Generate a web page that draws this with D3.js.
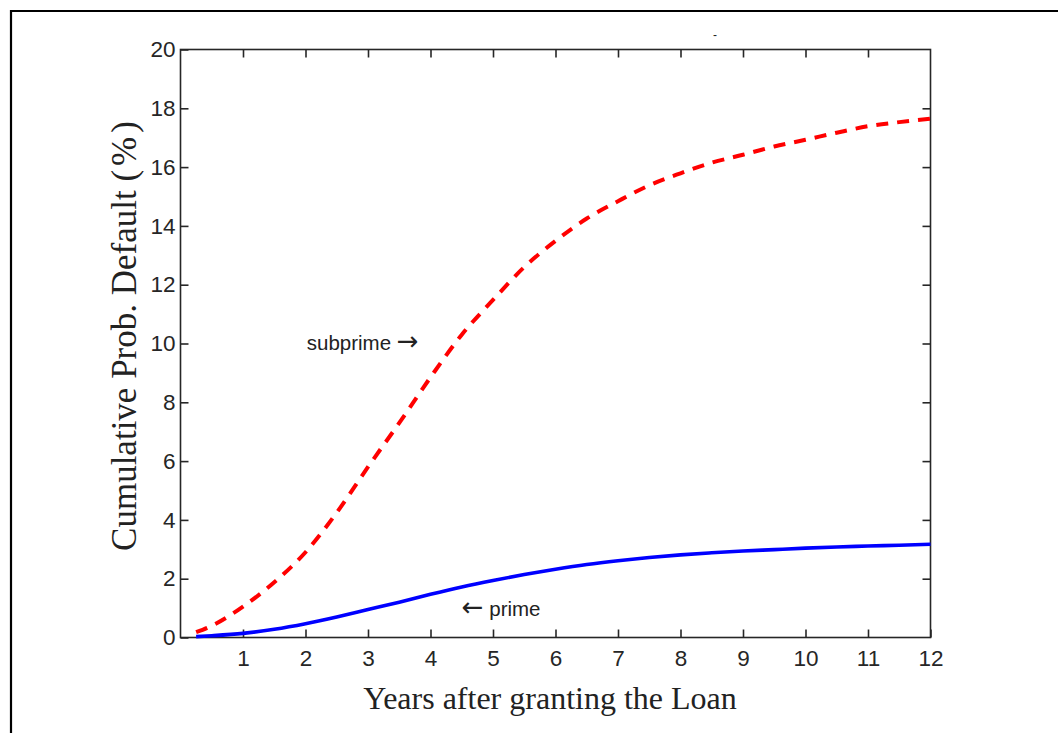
<!DOCTYPE html>
<html>
<head>
<meta charset="utf-8">
<script src="https://cdn.jsdelivr.net/npm/d3@7"></script>
<style>
  body { margin: 0; background: #fff; }
  svg { display: block; }
</style>
</head>
<body>
<svg id="chart" width="1058" height="733"></svg>
<script>
// years after granting the loan
var years = [0.25, 0.5, 1, 1.5, 2, 2.5, 3, 3.5, 4, 4.5, 5, 5.5, 6, 6.5, 7, 7.5, 8, 8.5, 9, 9.5, 10, 10.5, 11, 11.5, 12];
// cumulative probability of default (%)
var subprime = [0.18, 0.4, 1.05, 1.88, 2.9, 4.25, 5.8, 7.3, 8.85, 10.3, 11.48, 12.6, 13.49, 14.25, 14.84, 15.38, 15.79, 16.15, 16.42, 16.7, 16.93, 17.17, 17.39, 17.53, 17.65];
var prime = [0.03, 0.06, 0.14, 0.28, 0.47, 0.7, 0.95, 1.2, 1.47, 1.72, 1.94, 2.14, 2.32, 2.48, 2.61, 2.72, 2.81, 2.88, 2.94, 2.99, 3.04, 3.08, 3.11, 3.14, 3.17];
var xTicks = [1, 2, 3, 4, 5, 6, 7, 8, 9, 10, 11, 12];
var yTicks = [0, 2, 4, 6, 8, 10, 12, 14, 16, 18, 20];

function drawChart() {
    var svg = d3.select("#chart");
    var plotLeft = 180.5, plotRight = 930.5, plotTop = 49.5, plotBottom = 637.5;
    var axisColor = "#262626";
    var sans = "'Liberation Sans', Arial, sans-serif";
    var serif = "'Liberation Serif', 'Times New Roman', serif";

    // outer frame (only top and left edges are inside the picture)
    svg.append("path")
        .attr("d", "M11,733 L11,11 L1058,11")
        .attr("fill", "none")
        .attr("stroke", "#000")
        .attr("stroke-width", 2.2);

    var x = d3.scaleLinear().domain([0, 12]).range([plotLeft, plotRight]);
    var y = d3.scaleLinear().domain([0, 20]).range([plotBottom, plotTop]);

    // box
    svg.append("rect")
        .attr("x", plotLeft).attr("y", plotTop)
        .attr("width", plotRight - plotLeft).attr("height", plotBottom - plotTop)
        .attr("fill", "none")
        .attr("stroke", axisColor)
        .attr("stroke-width", 1.6);

    function styleAxis(g, showText) {
        g.select(".domain").remove();
        g.selectAll(".tick line").attr("stroke", axisColor).attr("stroke-width", 1.6);
        g.selectAll(".tick text")
            .attr("fill", axisColor)
            .style("font-family", sans)
            .style("font-size", "22.5px");
        if (!showText) g.selectAll(".tick text").remove();
    }

    // bottom axis, inward ticks
    svg.append("g")
        .attr("transform", "translate(0," + plotBottom + ")")
        .call(d3.axisBottom(x).tickValues(xTicks).tickSize(-8).tickPadding(13).tickFormat(d3.format("d")))
        .call(function (g) { styleAxis(g, true); });

    // top axis, mirrored ticks
    svg.append("g")
        .attr("transform", "translate(0," + plotTop + ")")
        .call(d3.axisTop(x).tickValues(xTicks.slice(0, -1)).tickSize(-8))
        .call(function (g) { styleAxis(g, false); });

    // left axis
    svg.append("g")
        .attr("transform", "translate(" + plotLeft + ",0)")
        .call(d3.axisLeft(y).tickValues(yTicks).tickSize(-8).tickPadding(5).tickFormat(d3.format("d")))
        .call(function (g) { styleAxis(g, true); });

    // right axis, mirrored ticks
    svg.append("g")
        .attr("transform", "translate(" + plotRight + ",0)")
        .call(d3.axisRight(y).tickValues(yTicks.slice(1, -1)).tickSize(-8))
        .call(function (g) { styleAxis(g, false); });

    var line = d3.line().curve(d3.curveMonotoneX)
        .x(function (d, i) { return x(years[i]); })
        .y(function (d) { return y(d); });

    svg.append("path")
        .datum(subprime)
        .attr("d", line)
        .attr("fill", "none")
        .attr("stroke", "#ff0000")
        .attr("stroke-width", 4)
        .attr("stroke-dasharray", "12,9");

    svg.append("path")
        .datum(prime)
        .attr("d", line)
        .attr("fill", "none")
        .attr("stroke", "#0000ff")
        .attr("stroke-width", 3.6);

    // annotations
    var sub = svg.append("text")
        .attr("x", x(2.02)).attr("y", y(9.78))
        .attr("fill", "#222")
        .style("font-family", sans)
        .style("font-size", "20.5px");
    sub.append("tspan").text("subprime ");
    sub.append("tspan").style("font-family", "'DejaVu Sans', sans-serif").style("font-size", "26px").text("\u2192");

    var pr = svg.append("text")
        .attr("x", x(4.5)).attr("y", y(0.73))
        .attr("fill", "#222")
        .style("font-family", sans)
        .style("font-size", "20.5px");
    pr.append("tspan").style("font-family", "'DejaVu Sans', sans-serif").style("font-size", "26px").text("\u2190");
    pr.append("tspan").text(" prime");

    // axis titles
    svg.append("text")
        .attr("x", 550).attr("y", 709)
        .attr("text-anchor", "middle")
        .attr("fill", "#222")
        .style("font-family", serif)
        .style("font-size", "32px")
        .text("Years after granting the Loan");

    var yt = svg.append("text")
        .attr("transform", "translate(136,334) rotate(-90)")
        .attr("text-anchor", "middle")
        .attr("fill", "#222")
        .style("font-family", serif)
        .style("font-size", "35px");
    yt.append("tspan").text("Cumulative Prob. Default ");
    yt.append("tspan").style("letter-spacing", "4px").text("(%)");

    // stray mark above the plot
    svg.append("text")
        .attr("x", 715).attr("y", 39)
        .attr("text-anchor", "middle")
        .attr("fill", "#222")
        .style("font-family", sans)
        .style("font-size", "12px")
        .text("-");
}

drawChart();
</script>
</body>
</html>
